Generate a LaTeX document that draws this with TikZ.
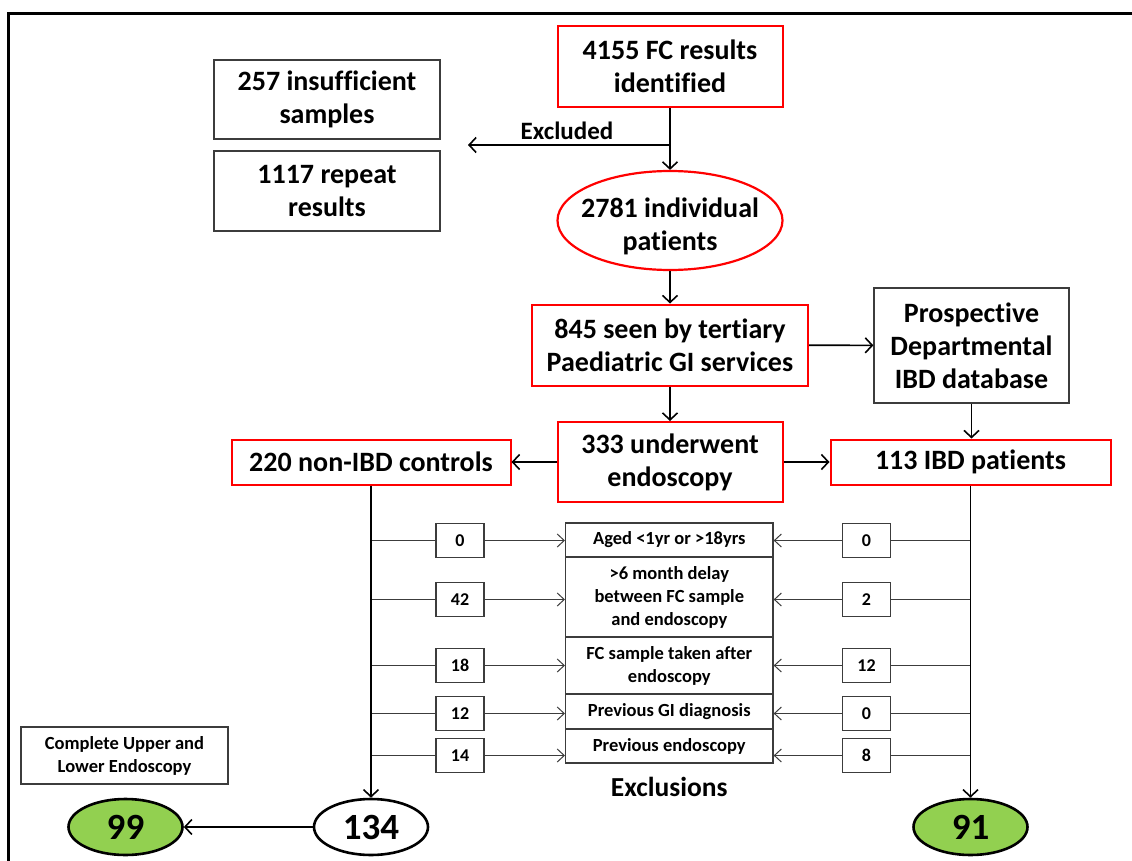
\documentclass[tikz,border=0pt]{standalone}
\usepackage{fontspec}
\setmainfont[Ligatures=NoCommon]{Carlito}
\usetikzlibrary{arrows.meta,shapes.geometric}
\definecolor{boxred}{RGB}{255,0,0}
\definecolor{okgreen}{RGB}{146,208,80}
\definecolor{edgegrey}{RGB}{60,60,60}

\begin{document}
\begin{tikzpicture}[x=1pt,y=-1pt,
  every node/.style={align=center,inner sep=0pt},
  bigtext/.style={font=\fontsize{28}{33}\selectfont\bfseries},
  smalltext/.style={font=\fontsize{18.5}{23}\selectfont\bfseries},
  redbox/.style={rectangle,draw=boxred,line width=2pt,bigtext},
  plainbox/.style={rectangle,draw=edgegrey,line width=1.3pt,bigtext},
  tabrow/.style={rectangle,draw=edgegrey,line width=1.2pt,smalltext,
    minimum width=207.5},
  numbox/.style={rectangle,draw=edgegrey,line width=1.2pt,
    font=\fontsize{18}{22}\selectfont\bfseries,minimum width=48,minimum height=34},
  result/.style={ellipse,draw=black,line width=2.6pt,
    font=\fontsize{37}{40}\selectfont\bfseries,minimum width=114,minimum height=56},
  conn/.style={line width=1.6pt,-{Straight Barb[length=7,width=15,line width=1.6pt]}},
  thinline/.style={line width=1pt,draw=edgegrey},
  thinarrow/.style={line width=1pt,draw=edgegrey,
    -{Straight Barb[length=7,width=13,line width=1pt]}}
]
\useasboundingbox (0,0) rectangle (1132,861);

% outer frame (top and left edges)
\draw[line width=3pt] (8,861) -- (8,14) -- (1132,14);

% upper flow
\node[redbox,minimum width=225,minimum height=81] (fc) at (670,66.5)
  {4155 FC results\\identified};
\node[plainbox,minimum width=226,minimum height=79] (insuf) at (327,99.5)
  {257 insufficient\\samples};
\node[plainbox,minimum width=226,minimum height=80] (rep) at (327,191)
  {1117 repeat\\results};
\node[ellipse,draw=boxred,line width=2.2pt,bigtext,minimum width=225,minimum height=99]
  (pat) at (670,220.5)
  {\makebox[0pt]{\raisebox{-13.5pt}[0pt][0pt]{\begin{tabular}{@{}c@{}}2781 individual\\patients\end{tabular}}}};
\node[redbox,minimum width=276,minimum height=81] (seen) at (670,345)
  {845 seen by tertiary\\Paediatric GI services};
\node[plainbox,minimum width=195,minimum height=115] (db) at (971.5,345.5)
  {Prospective\\Departmental\\IBD database};
\node[redbox,minimum width=225,minimum height=80] (endo) at (670,462)
  {333 underwent\\endoscopy};
\node[redbox,minimum width=279,minimum height=45] (ctrl) at (371,462)
  {220 non-IBD controls};
\node[redbox,minimum width=280,minimum height=45] (ibd) at (970.5,462)
  {113 IBD patients};

\coordinate (exfrom) at (670,145);
\coordinate (exto) at (468,145);
\node[font=\fontsize{25}{28}\selectfont\bfseries] (exlab) at (567,131) {Excluded};

\draw[conn] (fc) -- (pat);
\draw[conn] (exfrom) -- (exto);
\draw[conn] (pat) -- (seen);
\draw[conn] (seen) -- (db);
\draw[conn] (seen) -- (endo);
\draw[conn] (db) -- (ibd.north -| db);
\draw[conn] (endo) -- (ctrl);
\draw[conn] (endo) -- (ibd);

% exclusion table
\node[tabrow,minimum height=34] (r1) at (669.3,540) {Aged <1yr or >18yrs};
\node[tabrow,minimum height=80] (r2) at (669.3,597) {>6 month delay\\between FC sample\\and endoscopy};
\node[tabrow,minimum height=57] (r3) at (669.3,665.5) {FC sample taken after\\endoscopy};
\node[tabrow,minimum height=35] (r4) at (669.3,711.5) {Previous GI diagnosis};
\node[tabrow,minimum height=34] (r5) at (669.3,746) {Previous endoscopy};
\node[font=\fontsize{27.5}{30}\selectfont\bfseries] (excl) at (669.3,787) {Exclusions};

% counts excluded from the control arm
\node[numbox] (L1) at (460,540.5) {0};
\node[numbox] (L2) at (460,599.5) {42};
\node[numbox] (L3) at (460,665.5) {18};
\node[numbox] (L4) at (460,713.5) {12};
\node[numbox] (L5) at (460,755.5) {14};
% counts excluded from the IBD arm
\node[numbox] (R1) at (866.5,540.5) {0};
\node[numbox] (R2) at (866.5,599.5) {2};
\node[numbox] (R3) at (866.5,665.5) {12};
\node[numbox] (R4) at (866.5,713.5) {0};
\node[numbox] (R5) at (866.5,755.5) {8};

\foreach \i in {1,...,5}{
  \draw[thinline] (ctrl.south |- L\i) -- (L\i.west);
  \draw[thinarrow] (L\i.east) -- (L\i -| r\i.west);
  \draw[thinline] (ibd.south |- R\i) -- (R\i.east);
  \draw[thinarrow] (R\i.west) -- (R\i -| r\i.east);
}

% final cohorts
\node[result] (n134) at (371,827) {134};
\node[result,fill=okgreen] (n99) at (125.5,827) {99};
\node[result,fill=okgreen] (n91) at (970.5,827) {91};
\node[rectangle,draw=edgegrey,line width=1.2pt,smalltext,minimum width=207,minimum height=57]
  (full) at (124.5,755.5) {Complete Upper and\\Lower Endoscopy};

\draw[conn] (ctrl) -- (n134);
\draw[conn] (ibd) -- (n91);
\draw[conn] (n134) -- (n99);
\end{tikzpicture}
\end{document}
